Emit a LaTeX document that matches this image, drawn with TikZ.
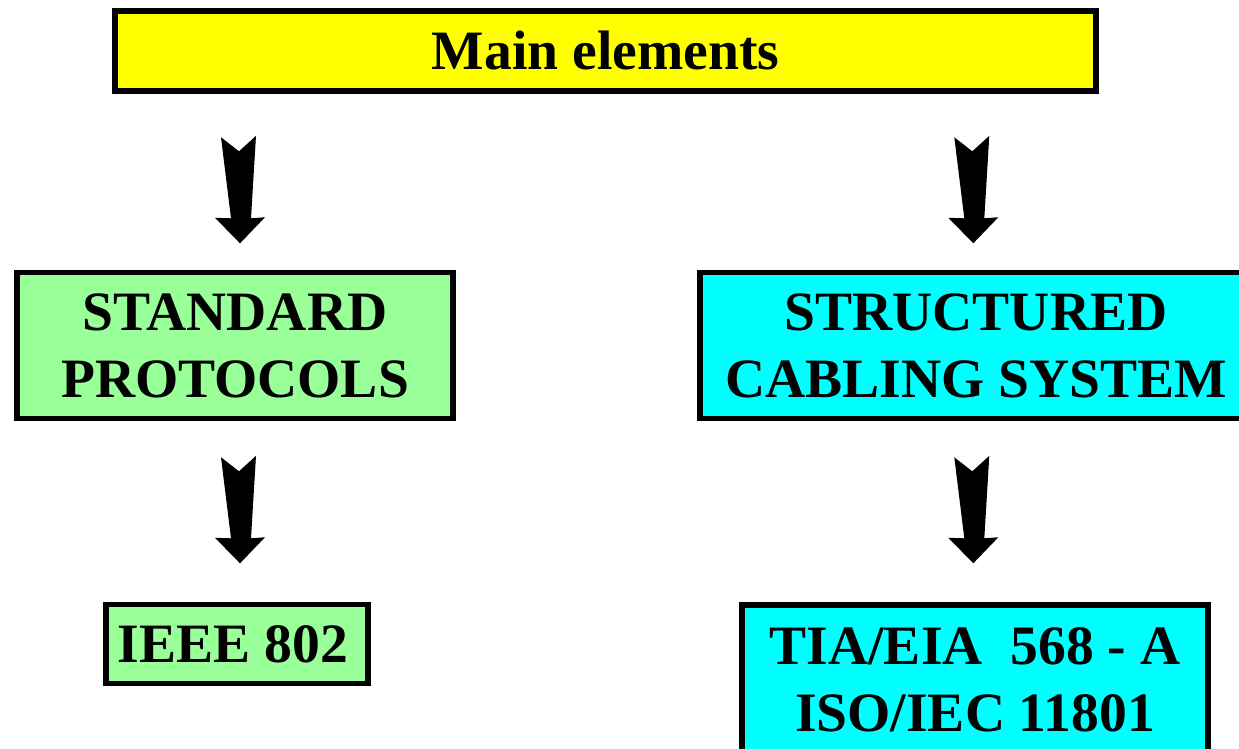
\documentclass[tikz,border=0pt]{standalone}
\usepackage{fontspec}
\setmainfont{Liberation Serif}
\definecolor{boxyellow}{RGB}{255,255,0}
\definecolor{boxgreen}{RGB}{153,255,153}
\definecolor{boxcyan}{RGB}{0,255,255}
\tikzset{
  box/.style={draw=black, line width=1.6pt, inner sep=0pt, align=center,
    font=\fontsize{15.8}{19.06}\selectfont\bfseries},
  blockarrow/.pic={
    \fill[black] (-19,-106) -- (-1,-92) -- (16,-107.5) -- (11,-25) -- (25,-26)
      -- (0,0) -- (-25,-25.5) -- (-9,-25) -- cycle;
  }
}
\begin{document}
\begin{tikzpicture}[x={(0.01cm,0)}, y={(0,-0.01cm)}]
\useasboundingbox[fill=white] (0,0) rectangle (1239,749);
\node[box, fill=boxyellow, minimum width=9.81cm, minimum height=0.80cm] (main) at (605.5,51) {Main elements};
\node[box, fill=boxgreen, minimum width=4.36cm, minimum height=1.46cm] (std) at (235,345.5) {STANDARD\\PROTOCOLS};
\node[box, fill=boxcyan, minimum width=5.52cm, minimum height=1.46cm] (scs) at (976,345.5) {STRUCTURED\\CABLING SYSTEM};
\node[box, fill=boxgreen, minimum width=2.62cm, minimum height=0.79cm] (ieee) at (237,644) {IEEE 802\hspace{0.08cm}};
\node[box, fill=boxcyan, minimum width=4.66cm, minimum height=1.50cm] (tia) at (975,680) {TIA/EIA\ \ 568 - A\\ISO/IEC 11801};
\pic (a1) at (240,243.3) {blockarrow};
\pic (a2) at (973.3,243.3) {blockarrow};
\pic (a3) at (240,563.3) {blockarrow};
\pic (a4) at (973.3,563.3) {blockarrow};
\end{tikzpicture}
\end{document}
